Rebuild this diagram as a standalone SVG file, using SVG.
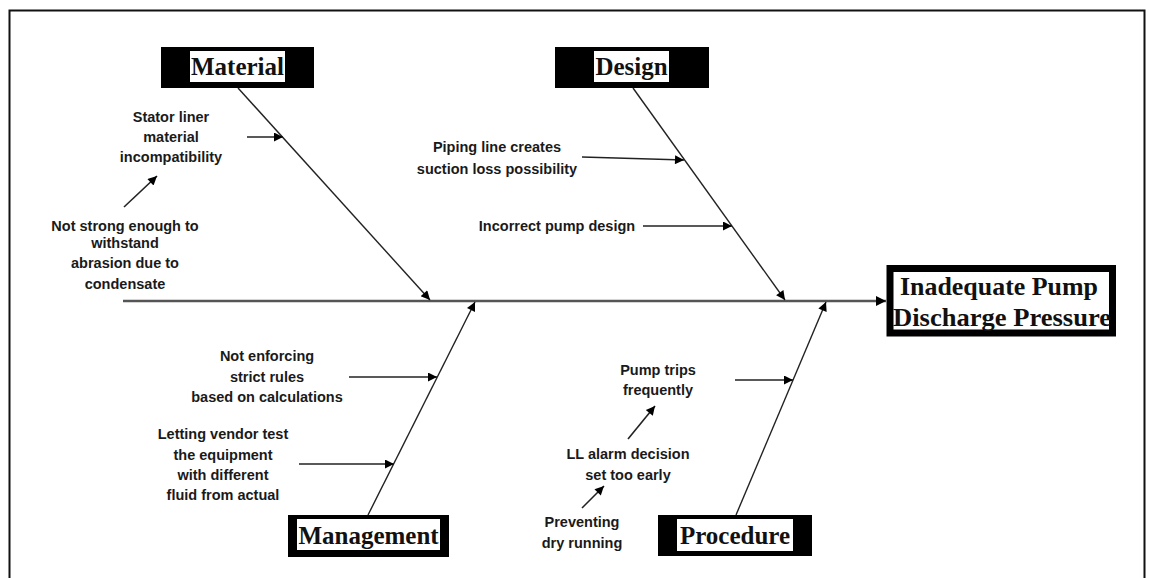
<svg xmlns="http://www.w3.org/2000/svg" width="1149" height="578" viewBox="0 0 1149 578">
<style>
.lbl{font-family:"Liberation Sans",Arial,sans-serif;font-weight:bold;font-size:14.5px;fill:#1a1a1a;text-anchor:middle}
.cat{font-family:"Liberation Serif","Times New Roman",serif;font-weight:bold;font-size:25px;fill:#111;text-anchor:middle}
.bone{stroke:#222;stroke-width:1.4;fill:none}
.sub{stroke:#222;stroke-width:1.6;fill:none}
</style>
<defs>
<marker id="ah" viewBox="0 0 10 10" refX="10" refY="5" markerWidth="12" markerHeight="9" markerUnits="userSpaceOnUse" orient="auto">
<path d="M0,0 L10,5 L0,10 z" fill="#000"/>
</marker>
<marker id="ah2" viewBox="0 0 10 10" refX="10" refY="5" markerWidth="13" markerHeight="10" markerUnits="userSpaceOnUse" orient="auto">
<path d="M0,0 L10,5 L0,10 z" fill="#000"/>
</marker>
</defs>
<rect x="0" y="0" width="1149" height="578" fill="#fff"/>
<path d="M9.5,590 L9.5,10.5 L1144.5,10.5 L1144.5,590" fill="none" stroke="#111" stroke-width="2"/>

<g id="connectors">
<line x1="123" y1="301" x2="886" y2="301" stroke="#555" stroke-width="2.5" marker-end="url(#ah2)"/>
<line class="bone" x1="238" y1="88" x2="430" y2="300" marker-end="url(#ah)"/>
<line class="bone" x1="633" y1="88" x2="785" y2="300" marker-end="url(#ah)"/>
<line class="bone" x1="368" y1="515" x2="475" y2="302" marker-end="url(#ah)"/>
<line class="bone" x1="736" y1="515" x2="826" y2="302" marker-end="url(#ah)"/>
<line class="sub" x1="247" y1="137" x2="283" y2="137" marker-end="url(#ah)"/>
<line class="sub" x1="124" y1="207" x2="157" y2="176" marker-end="url(#ah)"/>
<line class="sub" x1="582" y1="157" x2="684" y2="160" marker-end="url(#ah)"/>
<line class="sub" x1="643" y1="226" x2="732" y2="226" marker-end="url(#ah)"/>
<line class="sub" x1="349" y1="377" x2="437" y2="377" marker-end="url(#ah)"/>
<line class="sub" x1="299" y1="464" x2="394" y2="464" marker-end="url(#ah)"/>
<line class="sub" x1="735" y1="380" x2="793" y2="380" marker-end="url(#ah)"/>
<line class="sub" x1="628" y1="439" x2="655" y2="406" marker-end="url(#ah)"/>
<line class="sub" x1="582" y1="508" x2="604" y2="486" marker-end="url(#ah)"/>
</g>

<g id="head">
<rect x="890" y="268.5" width="222.5" height="64.5" fill="#fff" stroke="#000" stroke-width="7"/>
<text class="cat" x="999" y="295" textLength="198" lengthAdjust="spacingAndGlyphs">Inadequate Pump</text>
<text class="cat" x="1002" y="326" textLength="218" lengthAdjust="spacingAndGlyphs">Discharge Pressure</text>
</g>

<g id="material">
<rect x="161" y="47" width="153" height="41" fill="#000"/>
<rect x="190" y="51" width="95" height="31" fill="#fff"/>
<text class="cat" x="237.5" y="75">Material</text>
</g>

<g id="design">
<rect x="555" y="47" width="154" height="41" fill="#000"/>
<rect x="594" y="51" width="75" height="31" fill="#fff"/>
<text class="cat" x="631.5" y="75">Design</text>
</g>

<g id="management">
<rect x="288" y="515" width="161" height="42" fill="#000"/>
<rect x="297" y="519" width="143" height="31" fill="#fff"/>
<text class="cat" x="368.5" y="544">Management</text>
</g>

<g id="procedure">
<rect x="658" y="515" width="154" height="41" fill="#000"/>
<rect x="677" y="519" width="116" height="32" fill="#fff"/>
<text class="cat" x="735" y="544">Procedure</text>
</g>

<g id="stator">
<text class="lbl" x="171" y="122">Stator liner</text>
<text class="lbl" x="171" y="142">material</text>
<text class="lbl" x="171" y="162">incompatibility</text>
</g>

<g id="notstrong">
<text class="lbl" x="125" y="231">Not strong enough to</text>
<text class="lbl" x="125" y="248">withstand</text>
<text class="lbl" x="125" y="268">abrasion due to</text>
<text class="lbl" x="125" y="289">condensate</text>
</g>

<g id="piping">
<text class="lbl" x="497" y="152">Piping line creates</text>
<text class="lbl" x="497" y="174">suction loss possibility</text>
</g>

<g id="incorrect">
<text class="lbl" x="557" y="231">Incorrect pump design</text>
</g>

<g id="enforcing">
<text class="lbl" x="267" y="361">Not enforcing</text>
<text class="lbl" x="267" y="382">strict rules</text>
<text class="lbl" x="267" y="402">based on calculations</text>
</g>

<g id="vendor">
<text class="lbl" x="223" y="439">Letting vendor test</text>
<text class="lbl" x="223" y="460">the equipment</text>
<text class="lbl" x="223" y="480">with different</text>
<text class="lbl" x="223" y="500">fluid from actual</text>
</g>

<g id="trips">
<text class="lbl" x="658" y="375">Pump trips</text>
<text class="lbl" x="658" y="395">frequently</text>
</g>

<g id="llalarm">
<text class="lbl" x="628" y="459">LL alarm decision</text>
<text class="lbl" x="628" y="480">set too early</text>
</g>

<g id="preventing">
<text class="lbl" x="582" y="527">Preventing</text>
<text class="lbl" x="582" y="548">dry running</text>
</g>
</svg>
